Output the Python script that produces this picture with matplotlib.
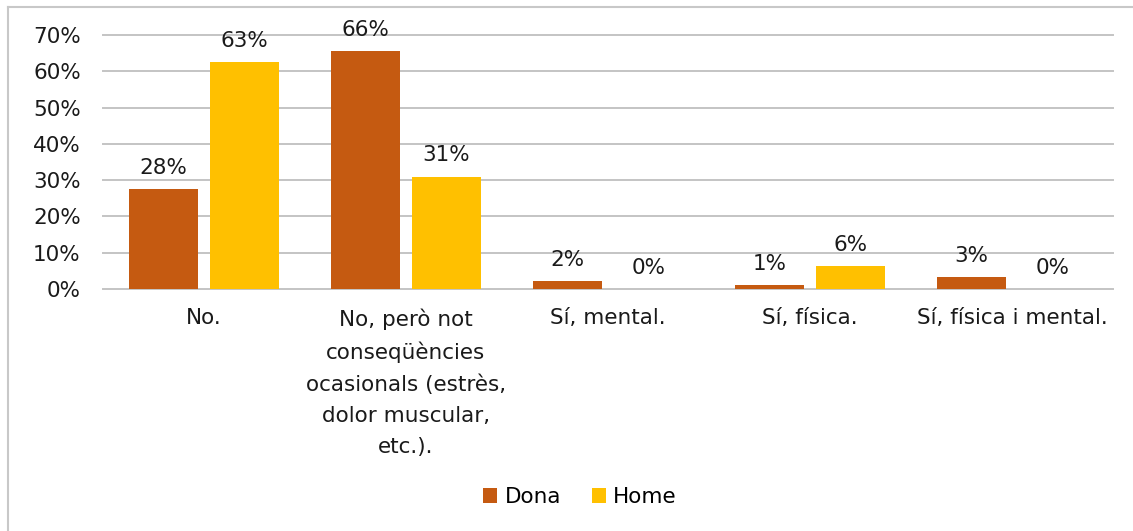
import numpy as np
import matplotlib
matplotlib.use('Agg')
from matplotlib import pyplot as plt
from matplotlib.lines import Line2D

# Chart data
categories = ['No.',
              'No, però not\nconseqüències\nocasionals (estrès,\ndolor muscular,\netc.).',
              'Sí, mental.',
              'Sí, física.',
              'Sí, física i mental.']
dona = [27.6, 65.5, 2.3, 1.1, 3.4]
home = [62.6, 31.0, 0.0, 6.3, 0.0]
series_names = ['Dona', 'Home']
yticks = [0, 10, 20, 30, 40, 50, 60, 70]

plt.rcParams['font.family'] = ['DejaVu Sans']
fs = 15.5

fig = plt.figure(figsize=(11.33, 5.31), dpi=100)
ax = fig.add_axes([0.0909, 0.4557, 0.8914, 0.4783])

x = np.arange(len(categories))
w = 0.34
b1 = ax.bar(x - 0.2, dona, w, color='#C55A11', label=series_names[0], zorder=3)
b2 = ax.bar(x + 0.2, home, w, color='#FFC000', label=series_names[1], zorder=3)

for bars in (b1, b2):
    ax.bar_label(bars, labels=[f'{round(b.get_height()):.0f}%' for b in bars],
                 padding=8, fontsize=fs, color='#1a1a1a')

ax.set_xlim(-0.5, len(categories) - 0.5)
ax.set_ylim(0, 70)
ax.set_yticks(yticks)
ax.set_yticklabels([f'{t}%' for t in yticks])
ax.set_xticks(x)
ax.set_xticklabels(categories, linespacing=1.68, va='top')
ax.tick_params(axis='y', length=0, pad=16, labelsize=fs, labelcolor='#1a1a1a')
ax.tick_params(axis='x', length=0, pad=14, labelsize=fs, labelcolor='#1a1a1a')

# horizontal gridlines, not clipped so the 0% and 70% lines keep full width
for t in yticks:
    ax.axhline(t, color='#c4c4c4', linewidth=1.4, zorder=0, clip_on=False)
for s in ax.spines.values():
    s.set_visible(False)

fig.legend(loc='center', bbox_to_anchor=(580 / 1133, 1 - 497 / 531), ncol=2,
           frameon=False, fontsize=fs, handlelength=0.65, handleheight=0.65,
           handletextpad=0.35, columnspacing=1.4)

# outer chart border (cropped at right and bottom)
fig.add_artist(Line2D([8 / 1133, 8 / 1133], [0, 1 - 7 / 531], transform=fig.transFigure,
                      color='#c8c8c8', linewidth=1.5))
fig.add_artist(Line2D([8 / 1133, 1], [1 - 7 / 531, 1 - 7 / 531], transform=fig.transFigure,
                      color='#c8c8c8', linewidth=1.5))

fig.savefig('out.png', dpi=100)
